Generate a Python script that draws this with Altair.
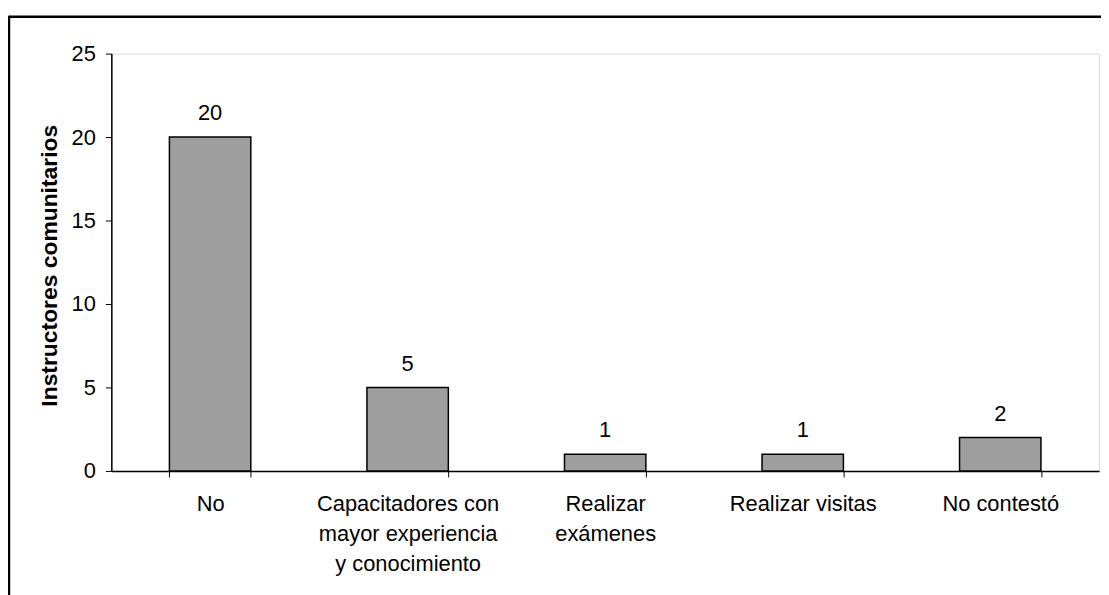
import altair as alt
import pandas as pd

categories = ["No", "Capacitadores con mayor experiencia y conocimiento",
              "Realizar exámenes", "Realizar visitas", "No contestó"]
values = [20, 5, 1, 1, 2]
label_lines = {
    "Capacitadores con mayor experiencia y conocimiento": ["Capacitadores con", "mayor experiencia", "y conocimiento"],
    "Realizar exámenes": ["Realizar", "exámenes"],
}
y_ticks = [0, 5, 10, 15, 20, 25]
y_title = "Instructores comunitarios"

df = pd.DataFrame({"cat": categories, "n": values})

expr = "datum.label"
for k, lines in label_lines.items():
    arr = "[" + ",".join("'" + s + "'" for s in lines) + "]"
    expr = f"datum.value == '{k}' ? {arr} : ({expr})"

FONT = "Liberation Sans"

x = alt.X("cat:N", sort=categories,
          scale=alt.Scale(paddingInner=0.588, paddingOuter=0.294),
          axis=alt.Axis(title=None, labelAngle=0, tickBand="extent", tickSize=6,
                        tickColor="black", domainColor="black", domainWidth=1.5,
                        labelFontSize=22, labelFont=FONT, labelColor="black",
                        labelPadding=17, labelLineHeight=30, labelExpr=expr,
                        labelLimit=0, labelBaseline="top"))
y = alt.Y("n:Q", scale=alt.Scale(domain=[0, 25], nice=False, zero=True),
          axis=alt.Axis(values=y_ticks, title=y_title, grid=False, tickSize=6,
                        tickColor="black", domainColor="black", domainWidth=1.5,
                        labelFontSize=22, labelFont=FONT, labelColor="black",
                        labelPadding=10, titleFontSize=23, titleFont=FONT,
                        titleFontWeight="bold", titleColor="black",
                        titleX=-55, titleY=213, titleBaseline="alphabetic"))

base = alt.Chart(df)
bars = base.mark_bar(color="#9e9e9e", stroke="black", strokeWidth=1.5).encode(x=x, y=y)
text = base.mark_text(dy=-17, baseline="alphabetic", fontSize=22, font=FONT, color="black").encode(
    x=alt.X("cat:N", sort=categories), y="n:Q", text="n:Q")

frame_data = alt.Data(values=[{}])
top_line = alt.Chart(frame_data).mark_rule(color="black", strokeWidth=2.5).encode(
    x=alt.value(-103), x2=alt.value(1000), y=alt.value(-37))
left_line = alt.Chart(frame_data).mark_rule(color="black", strokeWidth=2.5).encode(
    x=alt.value(-103), y=alt.value(-38), y2=alt.value(560))

chart = alt.layer(bars, text, top_line, left_line).properties(
    width=994, height=420,
    autosize=alt.AutoSizeParams(type="none"),
    padding={"left": 104, "top": 44, "right": 2, "bottom": 123},
).configure_view(stroke="#808080", strokeWidth=2).configure(font=FONT)

chart.save("out.html", embed_options={"renderer": "svg", "actions": False})
